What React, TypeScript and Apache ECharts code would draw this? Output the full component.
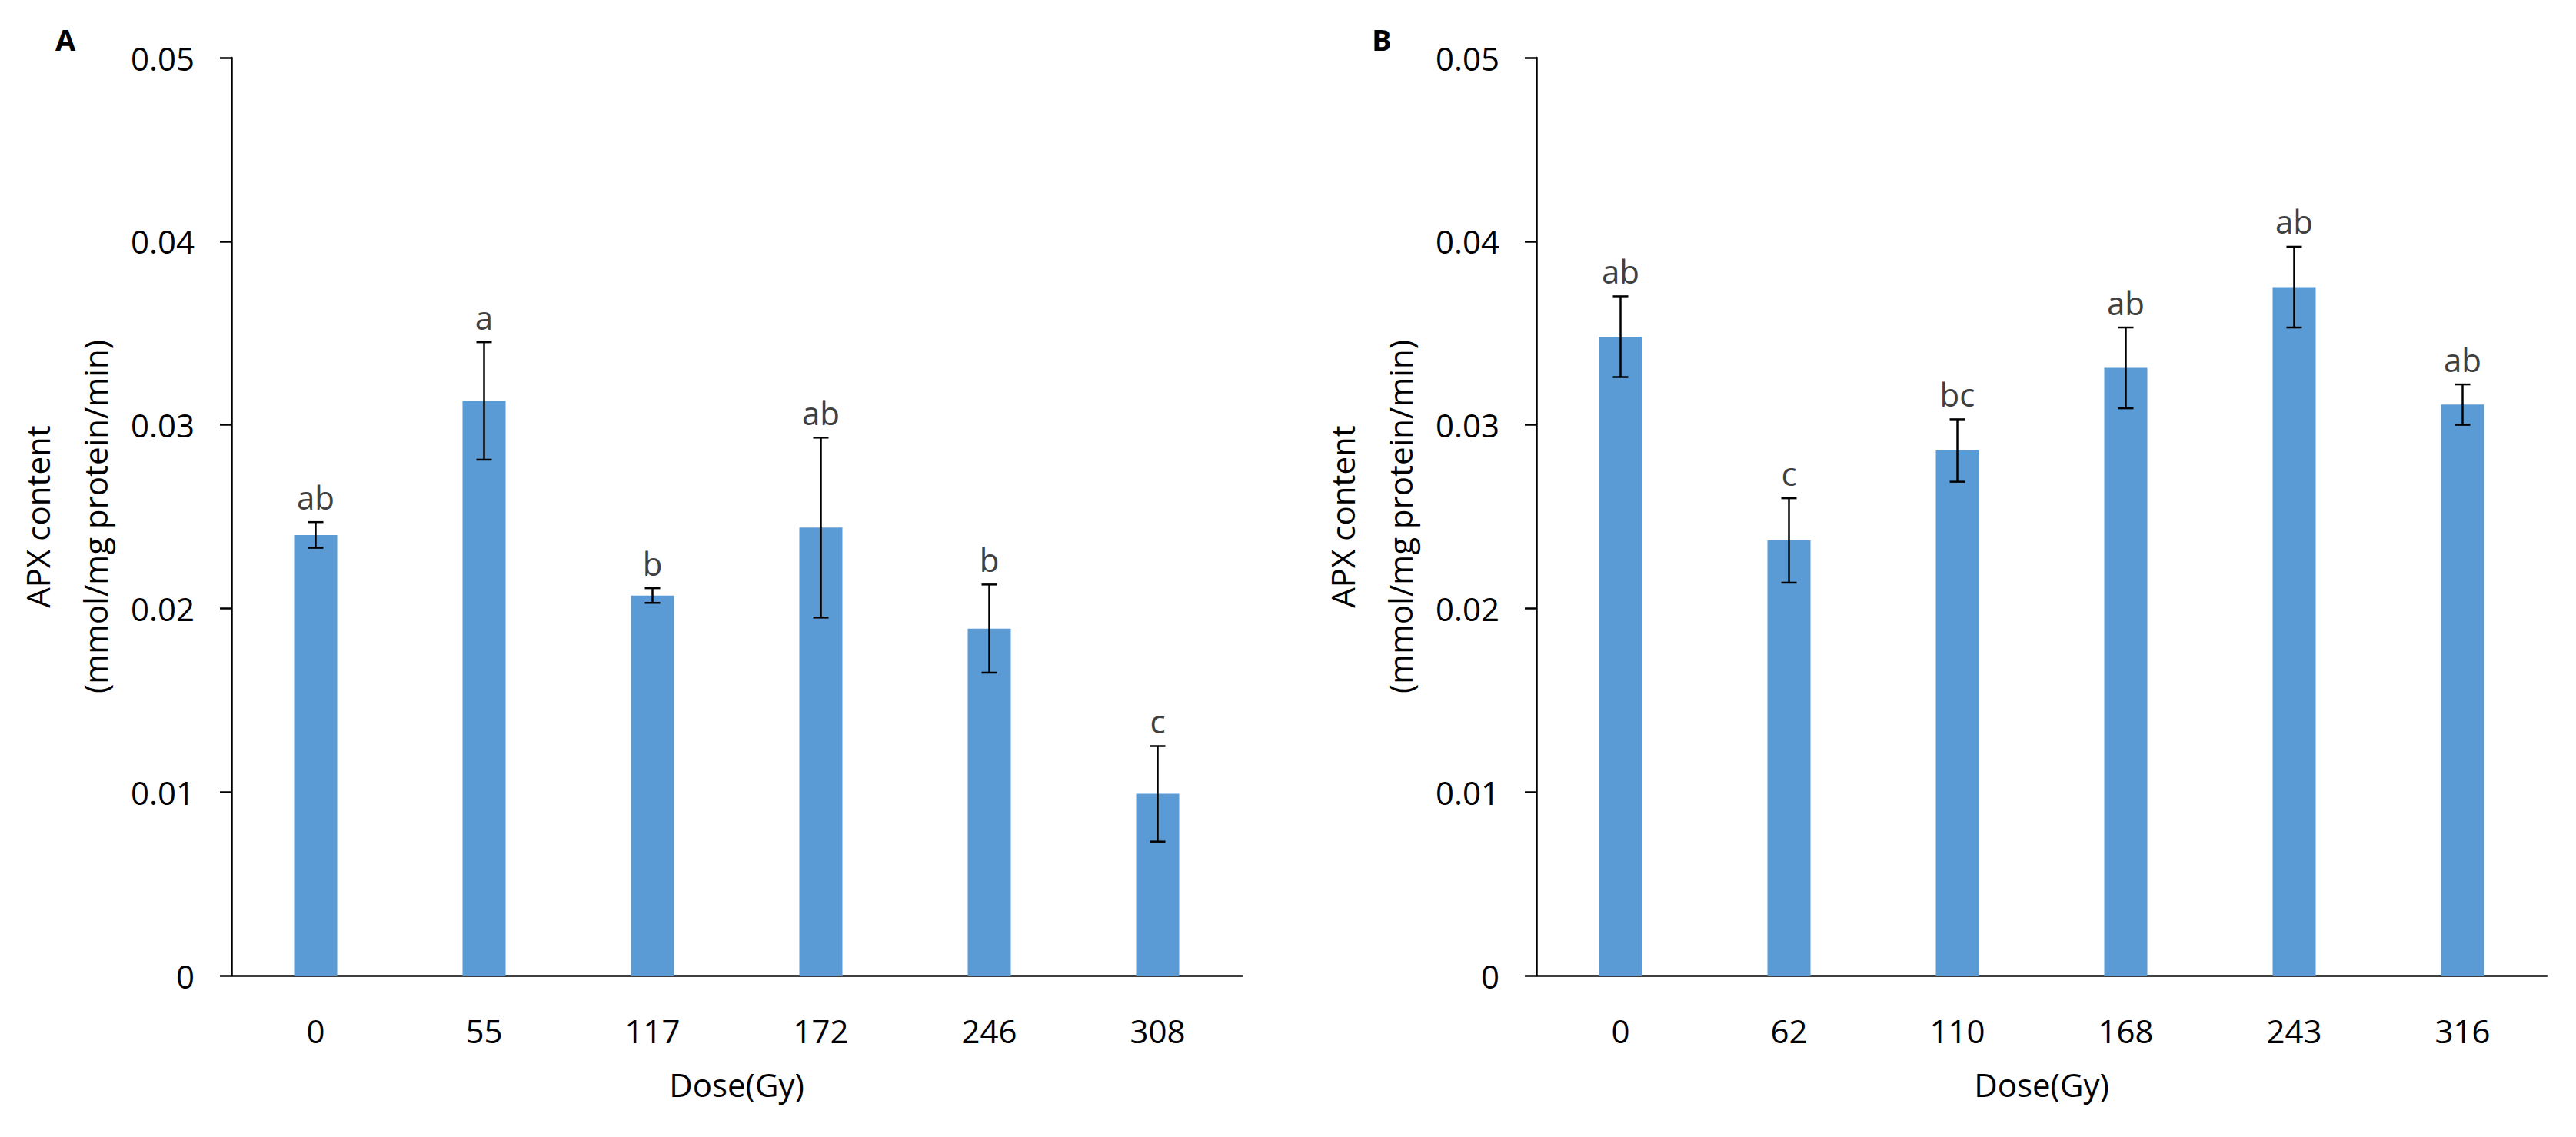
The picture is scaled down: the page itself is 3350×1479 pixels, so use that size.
import React, { useEffect, useRef } from "react";
import * as echarts from "echarts";

const dosesA = ["0", "55", "117", "172", "246", "308"];
const valuesA = [0.024, 0.0313, 0.0207, 0.0244, 0.0189, 0.0099];
const errorsA = [0.0007, 0.0032, 0.0004, 0.0049, 0.0024, 0.0026];
const lettersA = ["ab", "a", "b", "ab", "b", "c"];

const dosesB = ["0", "62", "110", "168", "243", "316"];
const valuesB = [0.0348, 0.0237, 0.0286, 0.0331, 0.0375, 0.0311];
const errorsB = [0.0022, 0.0023, 0.0017, 0.0022, 0.0022, 0.0011];
const lettersB = ["ab", "c", "bc", "ab", "ab", "ab"];

const yMin = 0;
const yMax = 0.05;
const yStep = 0.01;

const FONT = '"Open Sans", "Noto Sans", sans-serif';
const BAR_COLOR = "#5B9BD5";

function makeErrorRender(letters: string[]) {
  return (params: any, api: any) => {
    const idx = api.value(0);
    const v = api.value(1);
    const e = api.value(2);
    const top = api.coord([idx, v + e]);
    const bot = api.coord([idx, v - e]);
    const half = 10;
    const ls = { stroke: "#000", lineWidth: 2.5 };
    return {
      type: "group",
      children: [
        { type: "line", shape: { x1: top[0], y1: top[1], x2: bot[0], y2: bot[1] }, style: ls },
        { type: "line", shape: { x1: top[0] - half, y1: top[1], x2: top[0] + half, y2: top[1] }, style: ls },
        { type: "line", shape: { x1: bot[0] - half, y1: bot[1], x2: bot[0] + half, y2: bot[1] }, style: ls },
        {
          type: "text",
          x: top[0],
          y: top[1] - 12,
          style: {
            text: letters[params.dataIndex],
            fontSize: 42,
            fontFamily: FONT,
            fill: "#404040",
            align: "center",
            verticalAlign: "bottom",
          },
        },
      ],
    };
  };
}

function yAxisCfg(gridIndex: number) {
  return {
    type: "value",
    gridIndex,
    min: yMin,
    max: yMax,
    interval: yStep,
    name: "APX content\n(mmol/mg protein/min)",
    nameLocation: "middle",
    nameRotate: 90,
    nameGap: 140,
    nameTextStyle: { fontSize: 42, fontFamily: FONT, color: "#000", lineHeight: 75 },
    axisLine: { show: true, lineStyle: { color: "#000", width: 2.5 } },
    axisTick: { show: true, inside: false, length: 15, lineStyle: { color: "#000", width: 2.5 } },
    splitLine: { show: false },
    axisLabel: {
      margin: 48,
      fontSize: 42,
      fontFamily: FONT,
      color: "#000",
      formatter: (v: number) => (v === 0 ? "0" : v.toFixed(2)),
    },
  };
}

function xAxisCfg(gridIndex: number, cats: string[]) {
  return {
    type: "category",
    gridIndex,
    data: cats,
    name: "Dose(Gy)",
    nameLocation: "middle",
    nameGap: 120,
    nameTextStyle: { fontSize: 42, fontFamily: FONT, color: "#000" },
    axisLine: { show: true, lineStyle: { color: "#000", width: 2.5 } },
    axisTick: { show: false },
    axisLabel: { margin: 50, fontSize: 42, fontFamily: FONT, color: "#000" },
  };
}

export default function App() {
  const ref = useRef<HTMLDivElement>(null);
  useEffect(() => {
    if (!ref.current) return;
    const chart = echarts.init(ref.current, null, { renderer: "svg" });
    chart.setOption({
      animation: false,
      backgroundColor: "#fff",
      grid: [
        { left: 301, top: 75, width: 1314, height: 1194 },
        { left: 1998, top: 75, width: 1314, height: 1194 },
      ],
      xAxis: [xAxisCfg(0, dosesA), xAxisCfg(1, dosesB)],
      yAxis: [yAxisCfg(0), yAxisCfg(1)],
      graphic: [
        { type: "text", left: 72, top: 32, style: { text: "A", fontSize: 38, fontWeight: "bold", fontFamily: FONT, fill: "#000" } },
        { type: "text", left: 1784, top: 32, style: { text: "B", fontSize: 38, fontWeight: "bold", fontFamily: FONT, fill: "#000" } },
      ],
      series: [
        {
          type: "bar",
          xAxisIndex: 0,
          yAxisIndex: 0,
          data: valuesA,
          barWidth: 56,
          itemStyle: { color: BAR_COLOR },
        },
        {
          type: "bar",
          xAxisIndex: 1,
          yAxisIndex: 1,
          data: valuesB,
          barWidth: 56,
          itemStyle: { color: BAR_COLOR },
        },
        {
          type: "custom",
          xAxisIndex: 0,
          yAxisIndex: 0,
          z: 5,
          renderItem: makeErrorRender(lettersA),
          data: valuesA.map((v, i) => [i, v, errorsA[i]]),
        },
        {
          type: "custom",
          xAxisIndex: 1,
          yAxisIndex: 1,
          z: 5,
          renderItem: makeErrorRender(lettersB),
          data: valuesB.map((v, i) => [i, v, errorsB[i]]),
        },
      ],
    });
    return () => chart.dispose();
  }, []);
  return (
    <div
      ref={ref}
      style={{ position: "absolute", left: 0, top: 0, width: 3350, height: 1479 }}
    />
  );
}
